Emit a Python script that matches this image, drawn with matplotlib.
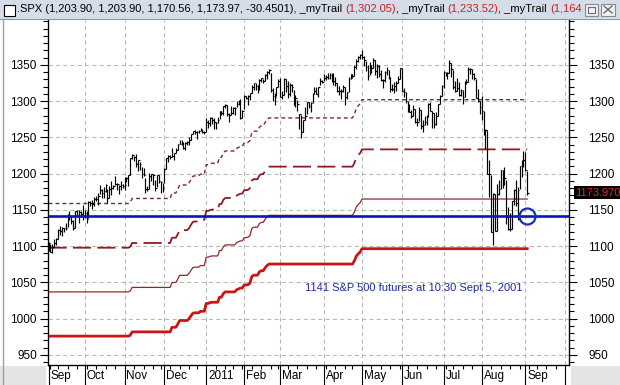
import numpy as np
import pandas as pd
import matplotlib
matplotlib.use('Agg')
import matplotlib.pyplot as plt
from matplotlib.patches import Rectangle
from matplotlib.lines import Line2D
from matplotlib.ticker import MultipleLocator
from matplotlib.transforms import blended_transform_factory

plt.rcParams['font.family'] = ['Liberation Sans', 'DejaVu Sans']

# trading calendar
first_day = '2010-09-03'
holidays = ['2010-09-06', '2010-11-25', '2010-12-24', '2011-01-17', '2011-02-21',
            '2011-04-22', '2011-05-30', '2011-07-04', '2011-09-05']

# daily bars Sep 3 2010 .. Sep 2 2011, one row per month
highs = [
    1105.1, 1103.3, 1102.6, 1110.3, 1110.9, 1123.9, 1127.4, 1126.0, 1125.4, 1131.5, 1144.4, 1148.6, 1140.8, 1136.1, 1148.9, 1149.9, 1150.0, 1148.8, 1157.2,
    1150.3, 1148.2, 1162.8, 1162.3, 1163.9, 1167.7, 1168.7, 1173.0, 1184.4, 1178.9, 1181.2, 1185.5, 1178.8, 1182.9, 1189.4, 1183.9, 1196.1, 1187.1, 1183.8, 1189.5, 1185.5,
    1195.8, 1195.9, 1198.3, 1221.3, 1227.1, 1224.6, 1226.8, 1218.8, 1215.5, 1208.5, 1207.4, 1194.1, 1183.6, 1200.7, 1200.0, 1198.9, 1190.9, 1198.7, 1198.6, 1189.8, 1187.4,
    1207.6, 1221.5, 1225.6, 1225.3, 1235.1, 1228.9, 1235.0, 1240.4, 1246.7, 1246.1, 1244.3, 1243.7, 1245.6, 1250.0, 1255.0, 1259.4, 1260.0, 1258.6, 1259.9, 1262.6, 1261.0, 1259.3,
    1276.2, 1274.1, 1277.6, 1278.2, 1276.8, 1271.5, 1277.6, 1286.9, 1286.7, 1293.2, 1296.1, 1294.6, 1283.3, 1293.2, 1291.9, 1291.3, 1299.7, 1301.3, 1302.7, 1287.2,
    1308.0, 1307.6, 1308.6, 1311.0, 1322.8, 1324.9, 1324.6, 1321.8, 1330.8, 1332.6, 1330.4, 1337.6, 1341.5, 1344.1, 1338.9, 1317.9, 1310.9, 1320.0, 1330.0,
    1332.3, 1314.4, 1332.3, 1331.1, 1327.7, 1325.7, 1323.2, 1315.7, 1308.4, 1301.3, 1282.4, 1280.9, 1274.4, 1292.1, 1299.2, 1299.2, 1298.6, 1311.3, 1319.2, 1319.7, 1319.4, 1331.7, 1329.8,
    1337.9, 1336.7, 1338.2, 1339.5, 1338.8, 1339.5, 1333.2, 1324.5, 1321.4, 1316.8, 1322.0, 1319.7, 1313.3, 1334.0, 1338.0, 1337.5, 1349.6, 1357.6, 1361.7, 1364.6,
    1370.58, 1362.6, 1355.7, 1349.4, 1354.4, 1349.4, 1359.4, 1357.2, 1351.0, 1350.5, 1343.3, 1330.4, 1341.7, 1346.8, 1342.9, 1333.3, 1323.7, 1325.9, 1328.5, 1334.6, 1345.2,
    1345.2, 1318.0, 1312.9, 1300.2, 1296.2, 1287.9, 1294.5, 1289.0, 1277.3, 1292.5, 1287.9, 1274.1, 1279.8, 1280.4, 1297.6, 1298.6, 1286.8, 1283.5, 1284.9, 1296.2, 1309.2, 1322.0,
    1341.0, 1340.9, 1340.1, 1356.5, 1353.2, 1343.3, 1327.2, 1331.5, 1326.7, 1317.0, 1315.5, 1327.2, 1330.4, 1347.0, 1346.1, 1345.0, 1338.5, 1330.0, 1316.3, 1300.0,
    1307.4, 1286.9, 1261.2, 1260.3, 1218.9, 1198.7, 1172.9, 1172.6, 1186.3, 1190.7, 1204.5, 1204.5, 1208.5, 1191.6, 1154.0, 1145.5, 1162.4, 1178.7, 1190.7, 1181.2, 1210.3, 1218.9, 1230.7,
    1229.3, 1203.9,
]
lows = [
    1093.6, 1091.5, 1091.2, 1099.1, 1101.1, 1109.6, 1115.6, 1114.6, 1118.9, 1122.4, 1126.0, 1136.2, 1131.1, 1122.8, 1125.1, 1142.0, 1132.1, 1140.3, 1136.1,
    1139.4, 1131.9, 1139.0, 1154.9, 1151.4, 1155.6, 1162.0, 1157.0, 1171.3, 1166.7, 1167.1, 1174.6, 1159.7, 1166.7, 1171.2, 1178.3, 1184.7, 1177.7, 1171.7, 1177.1, 1179.7,
    1177.7, 1187.9, 1183.6, 1198.3, 1220.3, 1217.2, 1208.9, 1204.3, 1204.5, 1194.1, 1197.2, 1173.0, 1175.9, 1179.0, 1189.4, 1184.6, 1176.4, 1181.0, 1186.5, 1173.6, 1174.1,
    1187.0, 1206.1, 1216.1, 1220.7, 1223.3, 1219.5, 1228.3, 1232.6, 1240.3, 1240.0, 1234.0, 1232.9, 1239.9, 1239.9, 1247.1, 1254.6, 1254.2, 1248.3, 1256.2, 1258.5, 1256.1, 1254.2,
    1257.6, 1262.7, 1265.4, 1268.7, 1261.7, 1262.2, 1269.6, 1275.0, 1280.5, 1281.1, 1290.2, 1278.9, 1271.3, 1281.1, 1282.2, 1281.1, 1292.0, 1294.4, 1275.1, 1276.6,
    1289.1, 1302.6, 1294.8, 1301.7, 1311.0, 1316.0, 1314.9, 1311.4, 1316.1, 1326.9, 1324.6, 1328.0, 1331.0, 1338.1, 1312.3, 1299.6, 1294.3, 1307.3, 1320.0,
    1305.3, 1302.6, 1309.0, 1312.6, 1303.9, 1306.9, 1312.3, 1294.3, 1292.0, 1286.9, 1261.9, 1249.0, 1256.9, 1273.7, 1282.0, 1291.0, 1285.1, 1297.7, 1310.2, 1310.2, 1305.3, 1321.9, 1325.0,
    1328.1, 1329.1, 1330.0, 1330.1, 1326.6, 1322.9, 1321.1, 1312.7, 1309.2, 1302.4, 1313.1, 1294.7, 1302.6, 1312.6, 1331.1, 1331.5, 1335.3, 1344.0, 1353.6, 1358.7,
    1358.6, 1349.1, 1341.5, 1329.2, 1336.4, 1338.6, 1346.3, 1336.4, 1332.0, 1333.4, 1327.3, 1318.5, 1326.6, 1336.1, 1330.7, 1312.9, 1313.9, 1311.8, 1314.4, 1325.7, 1331.1,
    1313.7, 1305.6, 1297.9, 1284.9, 1284.7, 1277.4, 1280.0, 1270.4, 1265.6, 1272.0, 1261.9, 1258.1, 1267.4, 1267.6, 1278.4, 1286.8, 1262.7, 1263.2, 1267.5, 1280.1, 1296.7, 1307.6,
    1318.2, 1334.3, 1330.9, 1339.2, 1333.8, 1316.4, 1313.3, 1314.0, 1306.7, 1307.8, 1295.9, 1305.4, 1323.7, 1325.8, 1336.9, 1331.2, 1329.6, 1303.8, 1299.2, 1282.9,
    1274.7, 1254.0, 1234.6, 1199.5, 1168.1, 1119.3, 1101.5, 1120.9, 1121.5, 1170.4, 1178.8, 1180.5, 1184.4, 1130.9, 1122.1, 1121.1, 1124.0, 1156.3, 1155.1, 1135.9, 1179.3, 1195.8, 1209.4,
    1203.9, 1170.56,
]
closes = [
    1104.5, 1091.8, 1098.9, 1104.2, 1109.6, 1121.9, 1121.1, 1125.1, 1124.7, 1125.6, 1142.7, 1139.8, 1134.3, 1124.8, 1148.7, 1142.2, 1147.7, 1144.7, 1141.2,
    1146.2, 1137.0, 1160.8, 1160.0, 1158.1, 1165.2, 1165.3, 1169.8, 1178.1, 1173.8, 1176.2, 1184.7, 1165.9, 1178.2, 1180.3, 1183.1, 1185.6, 1185.6, 1182.5, 1183.8, 1183.3,
    1184.4, 1193.6, 1198.0, 1221.1, 1225.9, 1223.3, 1213.4, 1218.7, 1213.5, 1199.2, 1197.8, 1178.3, 1178.6, 1196.7, 1199.7, 1197.8, 1180.7, 1198.4, 1189.4, 1187.8, 1180.6,
    1206.1, 1221.5, 1224.7, 1223.1, 1223.8, 1228.3, 1233.0, 1240.4, 1240.5, 1241.6, 1235.2, 1242.9, 1243.9, 1247.1, 1254.6, 1258.8, 1256.8, 1257.5, 1258.5, 1259.8, 1257.9, 1257.6,
    1271.9, 1270.2, 1276.6, 1273.9, 1271.5, 1269.8, 1274.5, 1286.0, 1283.8, 1293.2, 1295.0, 1281.9, 1280.3, 1283.4, 1290.8, 1291.2, 1296.6, 1299.5, 1276.3, 1286.1,
    1307.6, 1304.0, 1307.1, 1310.9, 1319.1, 1324.6, 1320.9, 1321.9, 1329.2, 1332.3, 1328.0, 1336.3, 1340.4, 1343.0, 1315.4, 1307.4, 1306.1, 1319.9, 1327.2,
    1306.3, 1308.4, 1331.0, 1321.2, 1310.1, 1321.8, 1320.0, 1295.1, 1304.3, 1296.4, 1281.9, 1256.9, 1273.7, 1279.2, 1298.4, 1293.8, 1297.5, 1309.7, 1313.8, 1310.2, 1319.4, 1328.3, 1325.8,
    1332.4, 1332.9, 1332.6, 1335.5, 1333.5, 1328.2, 1324.5, 1314.2, 1314.4, 1314.5, 1319.7, 1305.1, 1312.6, 1330.4, 1337.4, 1335.3, 1347.2, 1355.7, 1360.5, 1363.6,
    1361.2, 1356.6, 1347.3, 1335.1, 1340.2, 1346.3, 1357.2, 1342.1, 1348.7, 1337.8, 1329.5, 1329.0, 1340.7, 1343.6, 1333.3, 1317.4, 1316.3, 1320.5, 1325.7, 1331.1, 1345.2,
    1314.6, 1312.9, 1300.2, 1286.2, 1284.9, 1279.6, 1289.0, 1271.0, 1271.8, 1287.9, 1265.4, 1267.6, 1271.5, 1278.4, 1295.5, 1287.1, 1283.5, 1268.5, 1280.1, 1296.7, 1307.4, 1320.6,
    1339.7, 1337.9, 1339.2, 1353.2, 1343.8, 1319.5, 1313.6, 1317.7, 1308.9, 1316.1, 1305.4, 1326.7, 1325.8, 1343.8, 1345.0, 1337.4, 1331.9, 1304.9, 1300.7, 1292.3,
    1286.9, 1254.1, 1260.3, 1200.1, 1199.4, 1119.5, 1172.5, 1120.8, 1172.6, 1178.8, 1204.5, 1192.8, 1193.9, 1140.7, 1123.5, 1123.8, 1162.4, 1177.6, 1159.3, 1176.8, 1210.1, 1212.9, 1218.9,
    1204.4, 1173.97,
]

prior_high = 1219.80          # Apr 2010 high the trails start from
trail_pcts = [0.95, 0.90, 0.85, 0.80]
futures_level = 1141
note = '1141 S&P 500 futures at 10:30 Sept 5, 2001'
last_bar = ['1,203.90', '1,203.90', '1,170.56', '1,173.97', '-30.4501']

n = len(closes)
x = np.arange(n)
x_right = 274
cal = pd.bdate_range(first_day, '2011-10-31', freq='C', holidays=holidays)
month_starts = [0] + [i for i in range(1, x_right) if cal[i].month != cal[i - 1].month]
week_starts = [i for i in range(1, x_right) if cal[i].weekday() < cal[i - 1].weekday()]

run_max = np.maximum.accumulate(np.r_[prior_high, highs])[1:]
trails = [run_max * p for p in trail_pcts]

W, H = 620, 385
fig = plt.figure(figsize=(W / 100, H / 100), dpi=100)
ax = fig.add_axes([48 / W, 20 / H, 521 / W, 345 / H])

grid_kw = dict(color='#b8b8b8', lw=0.75, dashes=(4, 3))
for v in range(950, 1351, 50):
    ax.axhline(v, zorder=0, **grid_kw)
for i in month_starts[1:]:
    ax.axvline(i, zorder=0, **grid_kw)

# trailing stops
ax.plot(x, trails[0], color='#7a2838', lw=1.0, dashes=(2.8, 2.2))
ax.plot(x, trails[1], color='#8e1c20', lw=1.3, dashes=(10, 3.5))
ax.plot(x, trails[2], color='#8e2a2a', lw=0.9)
ax.plot(x, trails[3], color='#cc1414', lw=2.0)

# price bars
ax.vlines(x, lows, highs, color='black', lw=0.85, zorder=3)
ax.hlines(closes, x, x + 0.9, color='black', lw=0.85, zorder=3)

ax.axhline(futures_level, color='#0a14c8', lw=1.9, zorder=4)
ax.plot(x[-1], futures_level, 'o', mfc='none', mec='#1530c0', ms=11.5, mew=1.6, zorder=5)
ax.text(135, 1042, note, color='#1c2aa8', fontsize=8, va='center', ha='left')

# axes and ticks
ax.spines['top'].set_visible(False)
for s in ['left', 'bottom', 'right']:
    ax.spines[s].set_linewidth(0.9)
ax.set_yticks(range(950, 1351, 50))
ax.yaxis.set_minor_locator(MultipleLocator(10))
ax.tick_params(axis='y', which='major', length=6, width=0.8, labelsize=8.5, pad=2)
ax.tick_params(axis='y', which='minor', length=3.5, width=0.8)

ax.set_xticks(month_starts)
ax.set_xticklabels([])
ax.set_xticks(week_starts, minor=True)
ax.tick_params(axis='x', which='major', length=14.5, width=0.8)
ax.tick_params(axis='x', which='minor', length=3, width=0.8)
ax.set_xlim(-0.3, x_right)
ax.set_ylim(936, 1412)

ax2 = ax.twinx()
ax2.set_ylim(ax.get_ylim())
ax2.set_yticks(range(950, 1351, 50))
ax2.yaxis.set_minor_locator(MultipleLocator(10))
ax2.tick_params(axis='y', which='major', length=6, width=0.8, labelsize=8.5, pad=8)
ax2.tick_params(axis='y', which='minor', length=3.5, width=0.8)
ax2.spines['top'].set_visible(False)
ax2.set_ylim(936, 1412)

bt = blended_transform_factory(ax.transData, ax.transAxes)
for i in month_starts:
    if i >= n:
        continue
    d = cal[i]
    lab = str(d.year) if d.month == 1 else d.strftime('%b')
    ax.text(i + 1.0, -0.032, lab, transform=bt, ha='left', va='center', fontsize=8.5)

# last value box on the right scale
vt = blended_transform_factory(ax.transAxes, ax.transData)
ax2.text(1.012, closes[-1], '%.3f' % closes[-1], transform=vt, color='#e02828',
         fontsize=8, va='center', ha='left', clip_on=False,
         bbox=dict(facecolor='black', edgecolor='none', pad=1.2))

# window chrome
def fy(py):
    return 1 - py / H

fig.add_artist(Rectangle((0, fy(19)), 1, 19 / H, transform=fig.transFigure,
                         fc='#d5dde8', ec='none', zorder=0))
fig.add_artist(Line2D([0, 1], [fy(19), fy(19)], color='#8c96a4', lw=0.8))
fig.add_artist(Line2D([3 / W, 3 / W], [0, fy(19)], color='#a0a0a0', lw=1))
fig.add_artist(Rectangle((0, 0), 46 / W, 19 / H, fc='#e4e4e4', ec='none', zorder=0))
fig.add_artist(Rectangle((571 / W, 0), 49 / W, 19 / H, fc='#e4e4e4', ec='none', zorder=0))
fig.add_artist(Rectangle((4 / W, fy(16)), 11 / W, 11 / H, fc='white', ec='black', lw=0.8))

pieces = [('.SPX (' + ', '.join(last_bar) + '), _myTrail ', 'black')]
for k in range(3):
    val = trails[k][-1]
    pieces.append(('(' + '{:,.2f}'.format(val) + ')', '#cc2020'))
    pieces.append((', _myTrail ' if k < 2 else '', 'black'))
fig.canvas.draw()
rend = fig.canvas.get_renderer()
px = 17
for s, c in pieces:
    if not s:
        continue
    t = fig.text(px / W, fy(9.5), s, color=c, fontsize=8, va='center', ha='left')
    px += t.get_window_extent(rend).width

fig.add_artist(Rectangle((583 / W, fy(18.5)), 37 / W, 18 / H, fc='#d5dde8', ec='none', zorder=5))
fig.add_artist(Rectangle((585 / W, fy(16)), 13 / W, 12 / H, fc='#eef0f3', ec='#8a8a8a', lw=0.8, zorder=6))
fig.add_artist(Rectangle((588 / W, fy(13)), 7 / W, 6 / H, fc='none', ec='#707070', lw=0.8, zorder=7))
fig.add_artist(Rectangle((601 / W, fy(16)), 14 / W, 12 / H, fc='#eef0f3', ec='#8a8a8a', lw=0.8, zorder=6))
fig.add_artist(Line2D([604 / W, 612 / W], [fy(13), fy(6)], color='#606060', lw=0.9, zorder=7))
fig.add_artist(Line2D([604 / W, 612 / W], [fy(6), fy(13)], color='#606060', lw=0.9, zorder=7))

fig.savefig('out.png', dpi=100)
